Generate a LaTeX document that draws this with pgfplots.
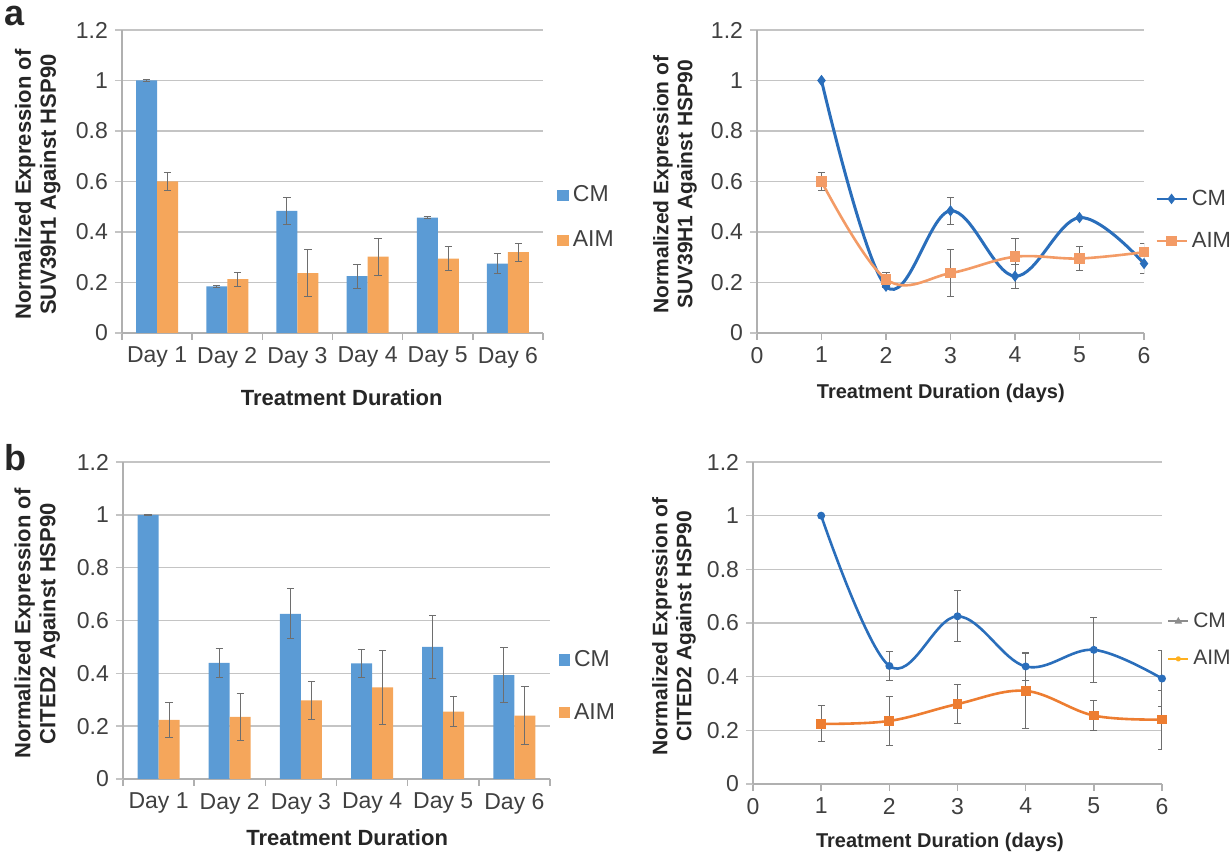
\documentclass[border=0pt]{standalone}
\usepackage{pgfplots}
\pgfplotsset{compat=1.18}
\usepackage{pgfplotstable}
\usepackage{fontspec}
\setmainfont{Liberation Sans}

\definecolor{barblue}{HTML}{5B9BD5}
\definecolor{barorange}{HTML}{F5A65B}
\definecolor{lineblue}{HTML}{2A6EBB}
\definecolor{lineorangeA}{HTML}{F39B66}
\definecolor{lineorangeB}{HTML}{ED7D31}
\definecolor{gridgray}{HTML}{C4C4C4}
\definecolor{axisgray}{HTML}{B0B0B0}
\definecolor{errgray}{HTML}{6E6E6E}
\definecolor{ticktext}{HTML}{404040}
\definecolor{labeltext}{HTML}{262626}
\definecolor{leggray}{HTML}{8C8C8C}
\definecolor{legyellow}{HTML}{FFB01F}

% SUV39H1 data
\pgfplotstableread{
x cm cmerr aim aimerr
1 1.000 0.003 0.600 0.035
2 0.185 0.003 0.213 0.027
3 0.484 0.054 0.237 0.094
4 0.225 0.047 0.302 0.073
5 0.457 0.005 0.295 0.049
6 0.275 0.040 0.320 0.035
}\dataA

% CITED2 data
\pgfplotstableread{
x cm cmerr aim aimerr
1 1.000 0.002 0.224 0.067
2 0.440 0.055 0.235 0.090
3 0.625 0.095 0.298 0.071
4 0.438 0.052 0.347 0.140
5 0.500 0.120 0.255 0.056
6 0.393 0.105 0.240 0.110
}\dataB

\pgfplotsset{
  base/.style={
    scale only axis,
    ymin=0, ymax=1.2,
    ytick={0,0.2,0.4,0.6,0.8,1,1.2},
    ymajorgrids,
    grid style={gridgray, line width=0.75pt},
    axis x line*=bottom, axis y line*=left,
    axis line style={-, axisgray, line width=0.75pt},
    tick align=outside,
    major tick length=3.5pt, minor tick length=3.5pt,
    ytick style={gridgray, line width=0.75pt},
    tick label style={font=\fontsize{11.5}{13}\selectfont, text=ticktext},
    /pgf/number format/assume math mode=true,
    xlabel style={font=\fontsize{11}{12}\selectfont\bfseries, text=labeltext, anchor=center},
    ylabel style={font=\fontsize{11}{12.5}\selectfont\bfseries, text=labeltext, align=center, anchor=center},
    legend style={draw=none, fill=none, anchor=west, font=\fontsize{11.5}{13}\selectfont, text=ticktext, inner sep=0pt, legend cell align=left},
    enlargelimits=false,
  },
  barax/.style={
    base,
    ybar=0pt, bar width=10.5pt,
    xmin=0.5, xmax=6.5,
    xtick={1,2,3,4,5,6},
    xticklabels={Day 1,Day 2,Day 3,Day 4,Day 5,Day 6},
    minor xtick={0.5,1.5,2.5,3.5,4.5,5.5,6.5},
    major x tick style={draw=none},
    minor x tick style={axisgray, line width=0.75pt},
    legend image code/.code={\fill[##1] (0pt,-2.9pt) rectangle (5.8pt,2.9pt);},
  },
  lineax/.style={
    base,
    xmin=0, xmax=6,
    xtick={0,1,2,3,4,5,6},
    x tick style={axisgray, line width=0.75pt},
    legend image code/.code={\draw[##1, mark repeat=2, mark phase=2] plot coordinates {(0pt,0pt) (7.5pt,0pt) (15pt,0pt)};},
  },
  errs/.style={error bars/.cd, y dir=both, y explicit,
    error bar style={errgray, line width=0.5pt},
    error mark options={errgray, line width=0.5pt, mark size=1.8pt, rotate=90}},
}

\begin{document}
\begin{tikzpicture}
\useasboundingbox (0,0) rectangle (615.5pt,428pt);

\node[font=\fontsize{18}{18}\selectfont\bfseries, text=labeltext] at (7.5pt,420pt) {a};
\node[font=\fontsize{18}{18}\selectfont\bfseries, text=labeltext] at (7.5pt,199.25pt) {b};

% ---------- a, bars ----------
\begin{axis}[barax,
  at={(61pt,261.5pt)}, anchor=south west,
  width=210.5pt, height=151.5pt,
  xlabel={Treatment Duration},
  xlabel style={at={(axis description cs:0.522,-0.2145)}},
  ylabel={Normalized Expression of\\SUV39H1 Against HSP90},
  ylabel style={at={(axis description cs:-0.200,0.49)}},
  legend style={at={(axis description cs:1.033,0.38)}, row sep=9pt},
]
\addplot[fill=barblue, draw=none, errs] table[x=x, y=cm, y error=cmerr]{\dataA};
\addlegendentry{CM}
\addplot[fill=barorange, draw=none, errs] table[x=x, y=aim, y error=aimerr]{\dataA};
\addlegendentry{AIM}
\end{axis}

% ---------- a, lines ----------
\begin{axis}[lineax,
  at={(378.5pt,261.5pt)}, anchor=south west,
  width=193.5pt, height=151.5pt,
  xlabel={Treatment Duration (days)},
  xlabel style={font=\fontsize{10}{12}\selectfont\bfseries, at={(axis description cs:0.475,-0.198)}},
  ylabel={Normalized Expression of\\SUV39H1 Against HSP90},
  ylabel style={font=\fontsize{10.5}{12}\selectfont\bfseries, at={(axis description cs:-0.212,0.49)}},
  legend style={at={(axis description cs:1.028,0.373)}, row sep=8pt, font=\fontsize{11}{13}\selectfont},
]
\addplot[lineblue, line width=1.5pt, smooth, tension=0.6, mark=diamond*, mark size=1.6pt, mark options={solid, fill=lineblue}, forget plot, errs] table[x=x, y=cm, y error=cmerr]{\dataA};
\addplot[lineorangeA, line width=1.3pt, smooth, tension=0.6, mark=square*, mark size=2pt, mark options={solid, fill=lineorangeA}, forget plot, errs] table[x=x, y=aim, y error=aimerr]{\dataA};
\addlegendimage{lineblue, line width=1.3pt, mark=diamond*, mark size=1.6pt, mark options={fill=lineblue}}
\addlegendentry{CM}
\addlegendimage{lineorangeA, line width=1.1pt, mark=square*, mark size=2pt, mark options={fill=lineorangeA}}
\addlegendentry{AIM}
\end{axis}

% ---------- b, bars ----------
\begin{axis}[barax,
  at={(61.5pt,38.5pt)}, anchor=south west,
  width=213.5pt, height=158.5pt,
  xlabel={Treatment Duration},
  xlabel style={at={(axis description cs:0.525,-0.186)}},
  ylabel={Normalized Expression of\\CITED2 Against HSP90},
  ylabel style={at={(axis description cs:-0.201,0.49)}},
  legend style={at={(axis description cs:1.019,0.293)}, row sep=13pt},
]
\addplot[fill=barblue, draw=none, errs] table[x=x, y=cm, y error=cmerr]{\dataB};
\addlegendentry{CM}
\addplot[fill=barorange, draw=none, errs] table[x=x, y=aim, y error=aimerr]{\dataB};
\addlegendentry{AIM}
\end{axis}

% ---------- b, lines ----------
\begin{axis}[lineax,
  at={(376.5pt,36pt)}, anchor=south west,
  width=204.5pt, height=161pt,
  xlabel={Treatment Duration (days)},
  xlabel style={font=\fontsize{10}{12}\selectfont\bfseries, at={(axis description cs:0.457,-0.180)}},
  ylabel={Normalized Expression of\\CITED2 Against HSP90},
  ylabel style={font=\fontsize{10.5}{12}\selectfont\bfseries, at={(axis description cs:-0.193,0.49)}},
  legend style={at={(axis description cs:1.012,0.447)}, row sep=6pt, font=\fontsize{10.5}{12}\selectfont},
  legend image code/.code={\draw[#1, mark repeat=2, mark phase=2] plot coordinates {(0pt,0pt) (5pt,0pt) (10pt,0pt)};},
]
\addplot[lineblue, line width=1.3pt, smooth, tension=0.6, mark=*, mark size=1.3pt, mark options={solid, fill=lineblue}, forget plot, errs] table[x=x, y=cm, y error=cmerr]{\dataB};
\addplot[lineorangeB, line width=1.3pt, smooth, tension=0.6, mark=square*, mark size=1.8pt, mark options={solid, fill=lineorangeB}, forget plot, errs] table[x=x, y=aim, y error=aimerr]{\dataB};
\addlegendimage{leggray, line width=1pt, mark=triangle*, mark size=1.2pt, mark options={fill=leggray}}
\addlegendentry{CM}
\addlegendimage{legyellow, line width=1pt, mark=asterisk, mark size=1.2pt}
\addlegendentry{AIM}
\end{axis}
\end{tikzpicture}
\end{document}
